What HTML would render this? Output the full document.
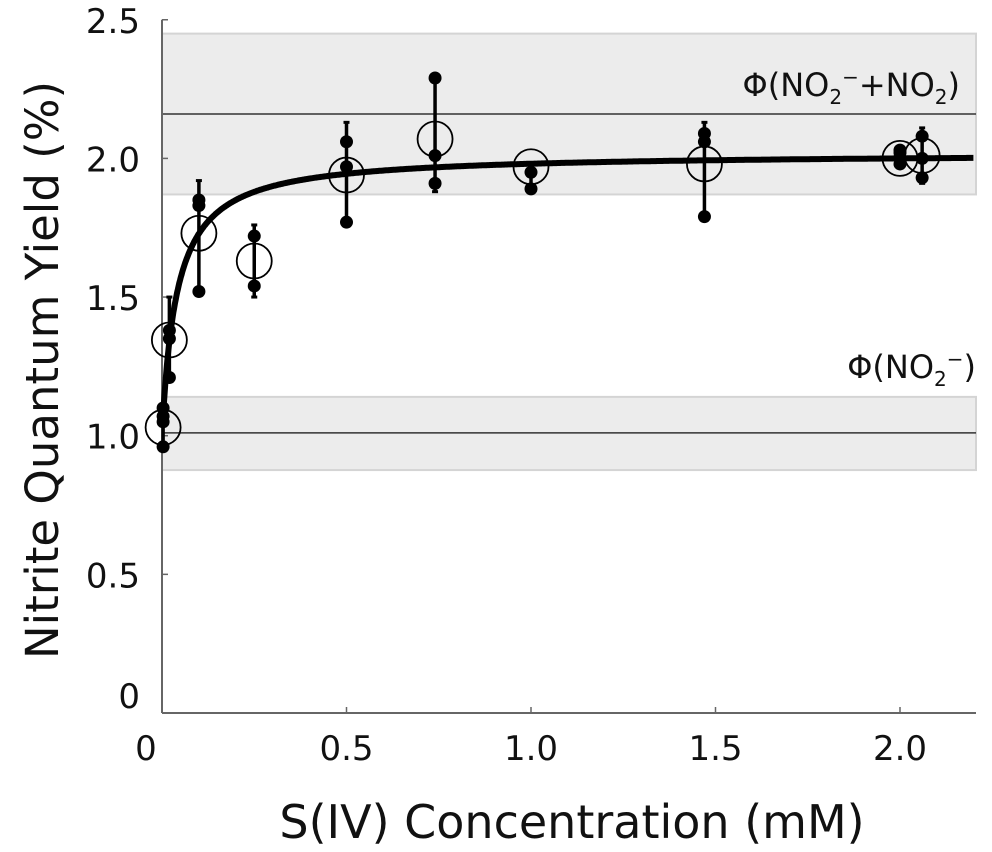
<!DOCTYPE html>
<html><head><meta charset="utf-8"><style>
html,body{margin:0;padding:0;background:#fff;}
svg{display:block;font-family:"DejaVu Sans","Liberation Sans",sans-serif;}
</style></head><body>
<svg id="chart" width="992" height="852" viewBox="0 0 992 852" xmlns="http://www.w3.org/2000/svg">
<g id="bands"></g>
<g id="axes"></g>
<g id="marks"></g>
<text x="960" y="96" text-anchor="end" font-size="32" fill="#111">Φ(NO<tspan font-size="20" dy="8">2</tspan><tspan font-size="20" dy="-20">−</tspan><tspan dy="12">+NO</tspan><tspan font-size="20" dy="8">2</tspan><tspan dy="-8">)</tspan></text>
<text x="976" y="378" text-anchor="end" font-size="32" fill="#111">Φ(NO<tspan font-size="20" dy="8">2</tspan><tspan font-size="20" dy="-20">−</tspan><tspan dy="12">)</tspan></text>
<text transform="translate(58,370) rotate(-90)" text-anchor="middle" font-size="45" fill="#111">Nitrite Quantum Yield (%)</text>
<text x="572" y="838" text-anchor="middle" font-size="46" fill="#111">S(IV) Concentration (mM)</text>
</svg>
<script>
const xConc = [0.003, 0.02, 0.10, 0.25, 0.50, 0.74, 1.00, 1.47, 2.00, 2.06];
const yMean = [1.03, 1.345, 1.73, 1.63, 1.94, 2.07, 1.97, 1.98, 2.00, 2.01];
const yReps = [[0.96,1.05,1.07,1.10],[1.21,1.38,1.35],[1.52,1.83,1.85],[1.54,1.72],[1.77,1.97,2.06],[1.91,2.01,2.29],[1.89,1.95],[1.79,2.06,2.09],[1.98,2.02,2.03],[1.93,2.00,2.08]];
const errLow = [0.96,1.21,1.52,1.50,1.77,1.88,1.89,1.79,1.98,1.91];
const errHigh = [1.10,1.50,1.92,1.76,2.13,2.29,1.97,2.13,2.03,2.11];
const fitParams = [1.0, 1.02, 0.04];
const bandLines = [2.16, 1.01];
const bandLow = [1.87, 0.876];
const bandHigh = [2.45, 1.14];
const xTicks = [0, 0.5, 1.0, 1.5, 2.0];
const xTickLabels = ["0","0.5","1.0","1.5","2.0"];
const yTicks = [0, 0.5, 1.0, 1.5, 2.0, 2.5];
const yTickLabels = ["0","0.5","1.0","1.5","2.0","2.5"];

const X0=162, XS=369, Y0=713, YS=277.3, XMAX=976;
const sx=v=>X0+v*XS, sy=v=>Y0-v*YS;
const NS="http://www.w3.org/2000/svg";
function mk(tag,parent,attrs){const e=document.createElementNS(NS,tag);for(const k in attrs)e.setAttribute(k,attrs[k]);parent.appendChild(e);return e;}
const bands=document.getElementById('bands'), axes=document.getElementById('axes'), marks=document.getElementById('marks');

bandLines.forEach((v,i)=>{
  const r=mk('rect',bands,{x:X0,y:sy(bandHigh[i]),width:XMAX-X0,height:sy(bandLow[i])-sy(bandHigh[i]),fill:'#ececec',stroke:'#d4d4d4','stroke-width':2});
  
  
  const l=mk('line',bands,{x1:X0,x2:XMAX,y1:sy(v),y2:sy(v),stroke:'#333','stroke-width':1.5});
  
  
});

const ya=mk('line',axes,{x1:X0,x2:X0,y1:sy(2.5),y2:Y0,stroke:'#666','stroke-width':2});


const xa=mk('line',axes,{x1:X0,x2:XMAX,y1:Y0,y2:Y0,stroke:'#666','stroke-width':2});


yTicks.forEach((v,i)=>{
  mk('line',axes,{x1:X0,x2:X0+6,y1:sy(v),y2:sy(v),stroke:'#666','stroke-width':1.5});
  const t=mk('text',axes,{x:140,y:sy(v)+(v===0?-5:13),'text-anchor':'end','font-size':34,fill:'#111'});
  t.textContent=yTickLabels[i];
  
  
});
xTicks.forEach((v,i)=>{
  mk('line',axes,{x1:sx(v),x2:sx(v),y1:Y0,y2:Y0-6,stroke:'#666','stroke-width':1.5});
  const t=mk('text',axes,{x:v===0?146:sx(v),y:760,'text-anchor':'middle','font-size':34,fill:'#111'});
  t.textContent=xTickLabels[i];
  
  
});

let d='';
for(let x=0.003;x<=2.2;x+=0.002){const y=fitParams[0]+fitParams[1]*x/(fitParams[2]+x);d+=(d?'L':'M')+sx(x).toFixed(1)+','+sy(y).toFixed(1);}
const fc=mk('path',marks,{d:d,fill:'none',stroke:'#000','stroke-width':6});



xConc.forEach((x,i)=>{
  const eb=mk('line',marks,{x1:sx(x),x2:sx(x),y1:sy(errLow[i]),y2:sy(errHigh[i]),stroke:'#000','stroke-width':3.5});
  
  
  mk('line',marks,{x1:sx(x)-3,x2:sx(x)+3,y1:sy(errHigh[i]),y2:sy(errHigh[i]),stroke:'#000','stroke-width':3});
  mk('line',marks,{x1:sx(x)-3,x2:sx(x)+3,y1:sy(errLow[i]),y2:sy(errLow[i]),stroke:'#000','stroke-width':3});
  yReps[i].forEach(v=>{
    const p=mk('circle',marks,{cx:sx(x),cy:sy(v),r:6.5,fill:'#000'});
    
    
  });
  const c=mk('circle',marks,{cx:sx(x),cy:sy(yMean[i]),r:17.5,fill:'none',stroke:'#000','stroke-width':1.8});
  
  
});
</script>
</body></html>
